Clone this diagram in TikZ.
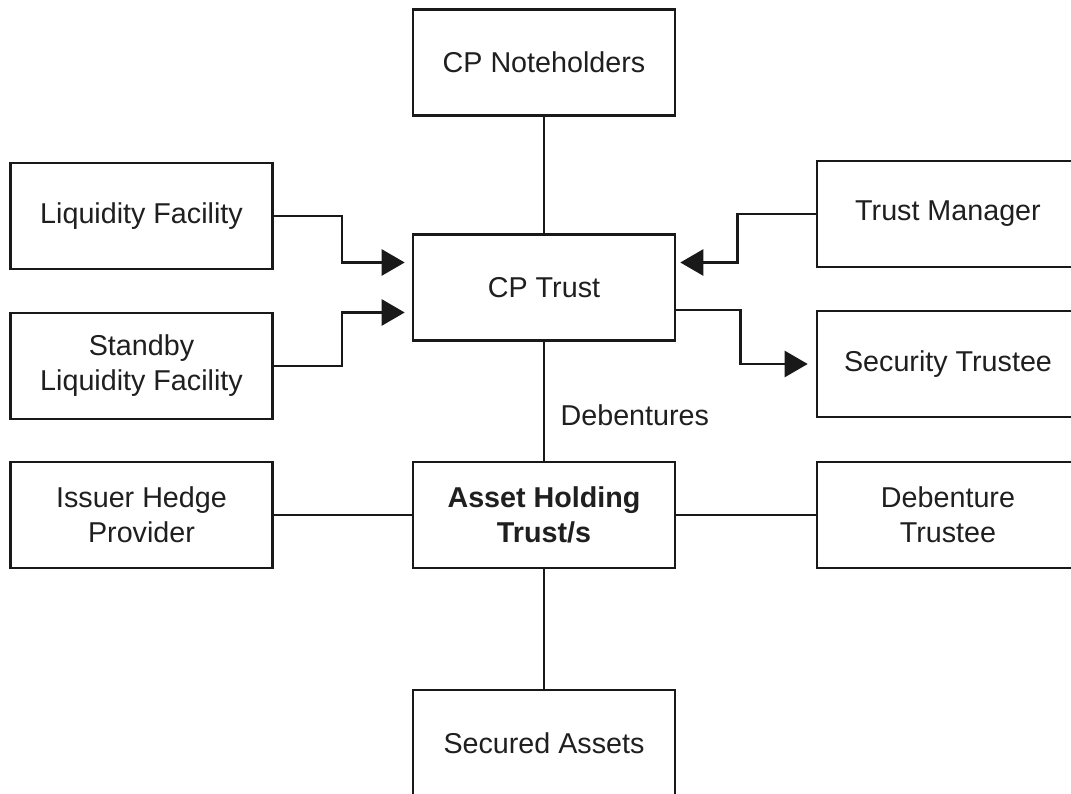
\documentclass[tikz,border=0pt]{standalone}
\usepackage{fontspec}
\setmainfont{Liberation Sans}
\usetikzlibrary{arrows.meta}
\begin{document}
\begin{tikzpicture}[x=1pt,y=-1pt,
  box/.style={draw=black!90,line width=2.6pt,minimum width=262pt,minimum height=106pt,inner sep=0pt,align=center,
    font=\fontsize{28.7}{35}\selectfont,text=black!88},
  conn/.style={line width=2.6pt,draw=black!90},
  arr/.style={conn,-{Triangle[length=23pt,width=26pt]}}]
\useasboundingbox (0,0) rectangle (1071,794);
\clip (0,0) rectangle (1071,794);
\fill[white] (0,0) rectangle (1071,794);
\node[box] (CPN) at (544,62.5) {CP Noteholders};
\node[box] (CP) at (544,287.5) {CP Trust};
\node[box] (AHT) at (544,515) {\bfseries Asset Holding\\\bfseries Trust/s};
\node[box] (SA) at (544,743) {Secured Assets};
\node[box] (LF) at (141.5,216) {Liquidity Facility};
\node[box] (SLF) at (141.5,366) {Standby\\Liquidity Facility};
\node[box] (IHP) at (141.5,515) {Issuer Hedge\\Provider};
\node[box] (TM) at (948,214) {Trust Manager};
\node[box] (ST) at (948,364) {Security Trustee};
\node[box] (DT) at (948,515) {Debenture\\Trustee};
\draw[conn] (CPN) -- (CP);
\draw[conn] (CP) -- node[right=12pt,pos=0.62,font=\fontsize{28.7}{35}\selectfont,text=black!88] {Debentures} (AHT);
\draw[conn] (AHT) -- (SA);
\draw[conn] (IHP) -- (AHT);
\draw[conn] (AHT) -- (DT);
\draw[arr,shorten >=7pt] (LF.east) -- ++(68,0) |- ([yshift=25pt]CP.west);
\draw[arr,shorten >=7pt] (SLF.east) -- ++(68,0) |- ([yshift=-25pt]CP.west);
\draw[arr,shorten >=4pt] (TM.west) -- ++(-78,0) |- ([yshift=25pt]CP.east);
\draw[arr,shorten >=8pt] ([yshift=-22.5pt]CP.east) -- ++(64,0) |- (ST.west);
\end{tikzpicture}
\end{document}
